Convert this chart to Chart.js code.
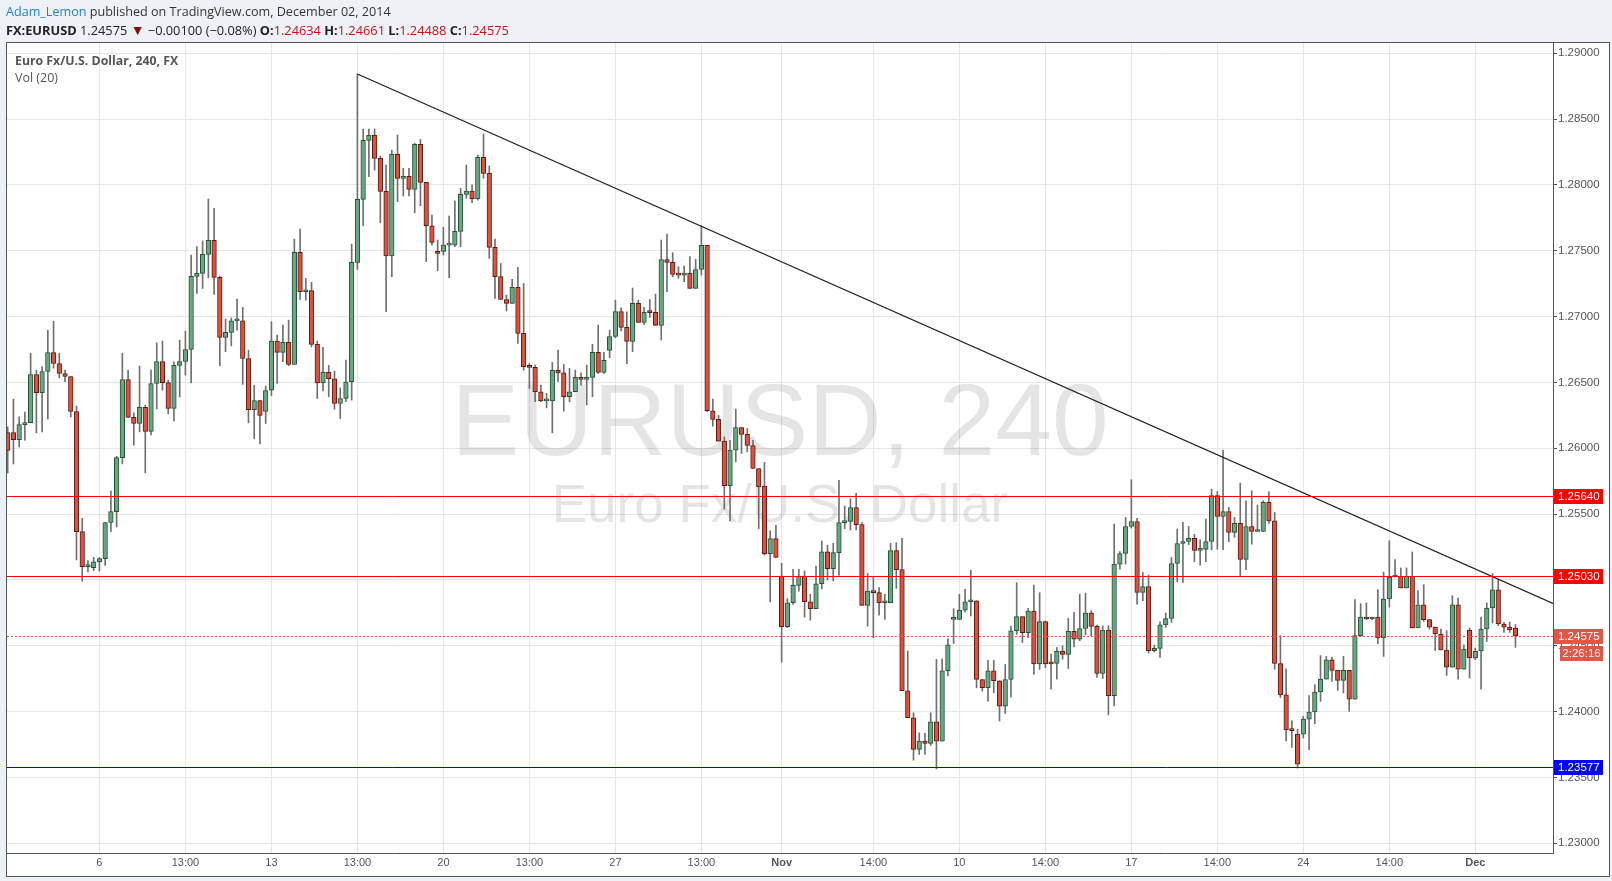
<!DOCTYPE html>
<html><head><meta charset="utf-8">
<script src="https://cdn.jsdelivr.net/npm/chart.js@4.4.0/dist/chart.umd.min.js"></script>
<style>
html,body{margin:0;padding:0;background:#eef1f5;width:1612px;height:881px;overflow:hidden;font-family:"Open Sans",sans-serif;}
#panel{position:absolute;left:6px;top:42px;width:1602px;height:833px;border:1px solid #555;background:#fff;}
#c{position:absolute;left:0;top:0;}
.txt{position:absolute;white-space:nowrap;}
#h1{left:6px;top:3px;font-size:12.6px;color:#333;line-height:18px;}
#h1 .u{color:#2185c6;}
#h2{left:6px;top:21px;font-size:12.8px;color:#222;line-height:18px;}
#h2 b{font-weight:700;}
#h2 .r{color:#c0171b;}
#h2 .t{color:#8b0d0d;font-size:14px;}
#t1{left:15px;top:52px;font-size:12.3px;font-weight:700;color:#555;line-height:17px;}
#t2{left:15px;top:69px;font-size:12.5px;color:#555;line-height:17px;}
</style></head>
<body>
<div id="panel"></div>
<canvas id="c" width="1612" height="881"></canvas>
<div class="txt" id="h1"><span class="u">Adam_Lemon</span> published on TradingView.com, December 02, 2014</div>
<div class="txt" id="h2"><b>FX:EURUSD</b> 1.24575 <span class="t">▼</span> −0.00100 (−0.08%) <b>O:</b><span class="r">1.24634</span> <b>H:</b><span class="r">1.24661</span> <b>L:</b><span class="r">1.24488</span> <b>C:</b><span class="r">1.24575</span></div>
<div class="txt" id="t1">Euro Fx/U.S. Dollar, 240, FX</div>
<div class="txt" id="t2">Vol (20)</div>
<script>
const opens = [
1.26120,1.26120,1.26066,1.26180,1.26195,1.26560,1.26423,1.26583,1.26727,1.26644,
1.26568,1.26545,1.26279,1.25367,1.25101,1.25094,1.25137,1.25162,1.25436,1.25519,
1.25929,1.26522,1.26234,1.26188,1.26310,1.26127,1.26492,1.26659,1.26499,1.26302,
1.26629,1.26659,1.26750,1.27305,1.27328,1.27472,1.27579,1.27298,1.26842,1.26880,
1.26968,1.26968,1.26682,1.26294,1.26363,1.26279,1.26441,1.26814,1.26728,1.26804,
1.26637,1.27488,1.27189,1.27197,1.26789,1.26497,1.26576,1.26528,1.26340,1.26378,
1.26505,1.27412,1.27890,1.28339,1.28377,1.28202,1.27951,1.27460,1.28232,1.28050,
1.28065,1.27966,1.28308,1.28019,1.27690,1.27495,1.27495,1.27543,1.27543,1.27647,
1.27928,1.27954,1.27895,1.28209,1.28088,1.27526,1.27303,1.27130,1.27100,1.27222,
1.26872,1.26619,1.26614,1.26429,1.26360,1.26360,1.26591,1.26573,1.26391,1.26429,
1.26538,1.26523,1.26538,1.26728,1.26576,1.26743,1.26849,1.27039,1.26918,1.26811,
1.27100,1.26956,1.27032,1.27032,1.26933,1.27434,1.27412,1.27320,1.27315,1.27330,
1.27214,1.27358,1.27541,1.26285,1.26219,1.26054,1.25715,1.25986,1.26158,1.26105,
1.26021,1.25846,1.25712,1.25200,1.25314,1.25029,1.24645,1.24827,1.24959,1.25029,
1.24834,1.24781,1.24971,1.25214,1.25085,1.25207,1.25435,1.25445,1.25549,1.25420,
1.24807,1.24916,1.24903,1.24827,1.24827,1.25222,1.25078,1.24158,1.23953,1.23712,
1.23776,1.23758,1.23923,1.23776,1.24310,1.24700,1.24700,1.24771,1.24834,1.24842,
1.24244,1.24181,1.24310,1.24234,1.24042,1.24244,1.24614,1.24721,1.24599,1.24763,
1.24363,1.24683,1.24365,1.24365,1.24457,1.24434,1.24609,1.24550,1.24631,1.24748,
1.24647,1.24289,1.24619,1.24120,1.25120,1.25201,1.25406,1.25444,1.24905,1.24950,
1.24462,1.24480,1.24659,1.24707,1.25125,1.25277,1.25292,1.25315,1.25224,1.25232,
1.25292,1.25640,1.25482,1.25520,1.25361,1.25429,1.25156,1.25406,1.25368,1.25368,
1.25589,1.25449,1.24365,1.24127,1.23861,1.23829,1.23829,1.23943,1.23997,1.24149,
1.24247,1.24394,1.24313,1.24237,1.24313,1.24095,1.24577,1.24718,1.24703,1.24718,
1.24559,1.24855,1.25022,1.25027,1.24939,1.25027,1.24635,1.24810,1.24698,1.24642,
1.24589,1.24468,1.24338,1.24810,1.24323,1.24620,1.24407,1.24460,1.24627,1.24787,
1.24924,1.24665,1.24642,1.24634];
const highs = [
1.26163,1.26373,1.26238,1.26274,1.26722,1.26593,1.26621,1.26897,1.26965,1.26722,
1.26593,1.26545,1.26320,1.25468,1.25147,1.25172,1.25170,1.25436,1.25674,1.25939,
1.26722,1.26593,1.26269,1.26624,1.26327,1.26593,1.26801,1.26813,1.26517,1.26656,
1.26821,1.26889,1.27467,1.27531,1.27574,1.27893,1.27822,1.27308,1.26981,1.26990,
1.27133,1.27070,1.26745,1.26479,1.26365,1.26472,1.26961,1.26859,1.26935,1.26973,
1.27589,1.27665,1.27290,1.27260,1.26814,1.26766,1.26629,1.26586,1.26459,1.26669,
1.27551,1.28843,1.28425,1.28425,1.28425,1.28220,1.28151,1.28265,1.28379,1.28126,
1.28126,1.28316,1.28346,1.28019,1.27771,1.27581,1.27678,1.27764,1.27880,1.27974,
1.28151,1.28000,1.28227,1.28387,1.28144,1.27589,1.27404,1.27163,1.27283,1.27374,
1.27252,1.26644,1.26631,1.26479,1.26416,1.26652,1.26745,1.26636,1.26606,1.26594,
1.26573,1.26631,1.26789,1.26935,1.26728,1.26897,1.27125,1.27067,1.27036,1.27217,
1.27125,1.27070,1.27130,1.27171,1.27581,1.27627,1.27485,1.27378,1.27384,1.27455,
1.27435,1.27690,1.27541,1.26373,1.26251,1.26087,1.26061,1.26297,1.26158,1.26150,
1.26061,1.25846,1.25892,1.25373,1.25415,1.25126,1.24858,1.25080,1.25080,1.25068,
1.24890,1.25105,1.25295,1.25263,1.25278,1.25756,1.25561,1.25617,1.25658,1.25435,
1.25050,1.25024,1.24941,1.24890,1.25278,1.25283,1.25316,1.24460,1.23991,1.23839,
1.23834,1.23991,1.24396,1.24401,1.24553,1.24781,1.24890,1.24928,1.25073,1.24842,
1.24244,1.24389,1.24389,1.24234,1.24358,1.24650,1.24979,1.24721,1.24784,1.24961,
1.24903,1.24688,1.24436,1.24487,1.24500,1.24710,1.24753,1.24892,1.24900,1.24766,
1.24657,1.24652,1.24652,1.25424,1.25216,1.25475,1.25761,1.25467,1.25057,1.25037,
1.24505,1.24682,1.24748,1.25171,1.25386,1.25437,1.25406,1.25346,1.25305,1.25462,
1.25690,1.25672,1.25986,1.25551,1.25475,1.25736,1.25601,1.25677,1.25569,1.25601,
1.25670,1.25513,1.24576,1.24322,1.23930,1.23866,1.23964,1.24121,1.24204,1.24425,
1.24419,1.24414,1.24313,1.24419,1.24313,1.24850,1.24820,1.24825,1.24718,1.24926,
1.25060,1.25298,1.25154,1.25091,1.25091,1.25212,1.24919,1.24964,1.24698,1.24642,
1.24627,1.24614,1.24880,1.24863,1.24508,1.24635,1.24483,1.24718,1.24825,1.25048,
1.25002,1.24678,1.24680,1.24661];
const lows = [
1.25813,1.25881,1.26011,1.26061,1.26195,1.26117,1.26125,1.26223,1.26608,1.26535,
1.26505,1.26238,1.25152,1.24990,1.25061,1.25071,1.25068,1.25111,1.25367,1.25402,
1.25881,1.26234,1.26023,1.26125,1.25813,1.26102,1.26299,1.26441,1.26261,1.26208,
1.26390,1.26555,1.26497,1.27176,1.27214,1.27295,1.27168,1.26626,1.26733,1.26778,
1.26897,1.26485,1.26193,1.26072,1.26033,1.26188,1.26400,1.26492,1.26657,1.26627,
1.26637,1.27130,1.27125,1.26771,1.26378,1.26436,1.26391,1.26297,1.26226,1.26353,
1.26365,1.27358,1.27690,1.28063,1.28113,1.27713,1.27037,1.27303,1.27873,1.27916,
1.27916,1.27789,1.27842,1.27417,1.27543,1.27348,1.27467,1.27295,1.27531,1.27531,
1.27898,1.27865,1.27885,1.28050,1.27442,1.27138,1.27130,1.27042,1.27100,1.26796,
1.26594,1.26454,1.26353,1.26353,1.26307,1.26117,1.26505,1.26282,1.26353,1.26429,
1.26479,1.26328,1.26391,1.26568,1.26568,1.26687,1.26839,1.26892,1.26642,1.26733,
1.26956,1.26941,1.26994,1.26933,1.26822,1.27189,1.27303,1.27290,1.27265,1.27214,
1.27214,1.27315,1.26277,1.26168,1.26054,1.25537,1.25449,1.25897,1.25961,1.25973,
1.25846,1.25390,1.25188,1.24833,1.25170,1.24376,1.24637,1.24814,1.24915,1.24718,
1.24695,1.24781,1.24933,1.24999,1.24992,1.25035,1.25389,1.25379,1.25379,1.24807,
1.24650,1.24561,1.24733,1.24700,1.24827,1.24936,1.24158,1.23953,1.23631,1.23674,
1.23674,1.23743,1.23565,1.23776,1.24270,1.24518,1.24700,1.24756,1.24726,1.24181,
1.24156,1.24080,1.24143,1.23928,1.23986,1.24110,1.24586,1.24523,1.24561,1.24282,
1.24320,1.24333,1.24170,1.24246,1.24398,1.24327,1.24492,1.24538,1.24583,1.24576,
1.24259,1.24251,1.23975,1.24044,1.25082,1.25120,1.25394,1.24816,1.24842,1.24444,
1.24454,1.24411,1.24639,1.24677,1.24986,1.24981,1.25267,1.25138,1.25113,1.25138,
1.25229,1.25234,1.25229,1.25290,1.25323,1.25032,1.25077,1.25272,1.25368,1.25368,
1.25429,1.24322,1.24107,1.23778,1.23727,1.23571,1.23799,1.23710,1.23908,1.24078,
1.24247,1.24230,1.24161,1.24141,1.24002,1.24095,1.24577,1.24698,1.24698,1.24516,
1.24419,1.24794,1.25022,1.24939,1.24939,1.24635,1.24635,1.24685,1.24627,1.24465,
1.24468,1.24275,1.24338,1.24247,1.24323,1.24255,1.24394,1.24171,1.24533,1.24673,
1.24653,1.24602,1.24602,1.24488];
const closes = [
1.25983,1.26066,1.26180,1.26195,1.26560,1.26423,1.26583,1.26727,1.26644,1.26568,
1.26545,1.26279,1.25367,1.25101,1.25106,1.25137,1.25162,1.25436,1.25519,1.25929,
1.26522,1.26234,1.26188,1.26310,1.26127,1.26492,1.26659,1.26499,1.26302,1.26629,
1.26659,1.26750,1.27305,1.27328,1.27472,1.27579,1.27298,1.26842,1.26880,1.26968,
1.26972,1.26682,1.26294,1.26363,1.26249,1.26439,1.26814,1.26728,1.26804,1.26637,
1.27488,1.27189,1.27197,1.26789,1.26497,1.26576,1.26528,1.26340,1.26378,1.26505,
1.27412,1.27890,1.28339,1.28377,1.28202,1.27951,1.27460,1.28232,1.28050,1.28065,
1.27966,1.28308,1.28019,1.27690,1.27564,1.27480,1.27543,1.27546,1.27647,1.27928,
1.27954,1.27895,1.28209,1.28088,1.27526,1.27303,1.27130,1.27100,1.27222,1.26872,
1.26619,1.26614,1.26429,1.26360,1.26362,1.26591,1.26573,1.26391,1.26429,1.26538,
1.26523,1.26538,1.26728,1.26576,1.26667,1.26849,1.27039,1.26918,1.26811,1.27100,
1.26956,1.27032,1.27030,1.26933,1.27434,1.27412,1.27320,1.27315,1.27330,1.27214,
1.27358,1.27541,1.26285,1.26219,1.26054,1.25715,1.25986,1.26158,1.26105,1.26021,
1.25846,1.25707,1.25200,1.25314,1.25170,1.24645,1.24827,1.24959,1.25029,1.24834,
1.24781,1.24971,1.25214,1.25085,1.25207,1.25435,1.25445,1.25549,1.25420,1.24807,
1.24916,1.24903,1.24827,1.24830,1.25222,1.25078,1.24158,1.23953,1.23712,1.23776,
1.23758,1.23923,1.23776,1.24310,1.24508,1.24708,1.24771,1.24834,1.24842,1.24244,
1.24181,1.24310,1.24234,1.24042,1.24244,1.24614,1.24721,1.24599,1.24763,1.24363,
1.24683,1.24363,1.24362,1.24457,1.24434,1.24609,1.24550,1.24631,1.24748,1.24647,
1.24289,1.24619,1.24120,1.25120,1.25201,1.25406,1.25444,1.24905,1.24950,1.24462,
1.24480,1.24659,1.24707,1.25125,1.25277,1.25292,1.25315,1.25224,1.25232,1.25292,
1.25640,1.25482,1.25520,1.25361,1.25429,1.25156,1.25406,1.25368,1.25370,1.25589,
1.25449,1.24365,1.24127,1.23861,1.23855,1.23601,1.23943,1.23997,1.24149,1.24247,
1.24394,1.24313,1.24237,1.24313,1.24095,1.24577,1.24718,1.24703,1.24718,1.24559,
1.24855,1.25022,1.25027,1.24939,1.25027,1.24635,1.24810,1.24698,1.24642,1.24589,
1.24468,1.24338,1.24810,1.24323,1.24475,1.24407,1.24460,1.24627,1.24787,1.24924,
1.24665,1.24642,1.24620,1.24575];

const xTickIdx = [16,31,46,61,76,91,106,121,135,151,166,181,196,211,226,241,256];
const xTickLabels = ["6","13:00","13","13:00","20","13:00","27","13:00","Nov","14:00","10","14:00","17","14:00","24","14:00","Dec"];
const yTicks = [1.23,1.235,1.24,1.245,1.25,1.255,1.26,1.265,1.27,1.275,1.28,1.285,1.29];
const levelPrices = [1.25640, 1.25030, 1.23577];
const lastPrice = 1.24575;
const countdownText = "2:26:16";
const trendIdx = [61, 269.55];
const trendPrice = [1.28843, 1.24821];

const UP_FILL='#6ba583', UP_LINE='#225437', DN_FILL='#d75442', DN_LINE='#5b1a13';
const levelColors = ['#ff0000','#ff0000','#0000ff'];
const AXFONT = '"Liberation Sans", Arial, sans-serif';

const idx = opens.map((_, i) => i);
const isUp = idx.map(i => closes[i] >= opens[i]);
const wickData = idx.map(i => ({x:i, y:[Math.min(lows[i],opens[i],closes[i]), Math.max(highs[i],opens[i],closes[i])]}));
const bodyData = idx.map(i => ({x:i, y:[Math.min(opens[i],closes[i]), Math.max(opens[i],closes[i])]}));

const watermark = {
  id:'watermark',
  beforeDatasetsDraw(chart){
    const {ctx, chartArea:a} = chart;
    const cx = (a.left + a.right)/2;
    ctx.save();
    ctx.fillStyle = 'rgba(0,0,0,0.1)';
    ctx.textAlign = 'center';
    ctx.textBaseline = 'alphabetic';
    ctx.font = '102px ' + AXFONT;
    ctx.fillText('EURUSD, 240', cx, 455);
    ctx.font = '53px ' + AXFONT;
    ctx.fillText('Euro Fx/U.S. Dollar', cx, 522);
    ctx.restore();
  }
};

const levels = {
  id:'levels',
  afterDatasetsDraw(chart){
    const {ctx, chartArea:a, scales:{y}} = chart;
    ctx.save();
    ctx.lineWidth = 1;
    levelPrices.forEach((p,k) => {
      const py = Math.round(y.getPixelForValue(p)) + 0.5;
      ctx.strokeStyle = levelColors[k];
      ctx.beginPath(); ctx.moveTo(a.left, py); ctx.lineTo(a.right, py); ctx.stroke();
    });
    const ly = Math.round(y.getPixelForValue(lastPrice)) + 0.5;
    ctx.strokeStyle = '#e0523f';
    ctx.setLineDash([2,2]);
    ctx.beginPath(); ctx.moveTo(a.left, ly); ctx.lineTo(a.right, ly); ctx.stroke();
    ctx.restore();
  },
  afterDraw(chart){
    const {ctx, chartArea:a, scales:{y}} = chart;
    ctx.save();
    ctx.font = '11.5px ' + AXFONT;
    ctx.textBaseline = 'middle';
    const box = (p, color) => {
      const py = y.getPixelForValue(p);
      ctx.fillStyle = color;
      ctx.fillRect(a.right + 1, Math.round(py) - 7, 49, 15);
      ctx.fillStyle = '#fff';
      ctx.textAlign = 'left';
      ctx.fillText(p.toFixed(5), a.right + 5, Math.round(py) + 0.5);
    };
    levelPrices.forEach((p,k) => box(p, levelColors[k]));
    box(lastPrice, '#dd5846');
    const py = Math.round(y.getPixelForValue(lastPrice));
    ctx.fillStyle = '#dd5846';
    ctx.fillRect(a.right + 7, py + 10, 43, 15);
    ctx.fillStyle = '#fff';
    ctx.textAlign = 'center';
    ctx.fillText(countdownText, a.right + 28.5, py + 18);
    ctx.restore();
  }
};

new Chart(document.getElementById('c'), {
  type:'bar',
  data:{datasets:[
    {type:'line', data: trendIdx.map((x,k) => ({x, y:trendPrice[k]})), borderColor:'#1e1e1e', borderWidth:1.2, pointRadius:0, order:0},
    {data: bodyData, backgroundColor: isUp.map(u => u ? UP_FILL : DN_FILL), borderColor: isUp.map(u => u ? UP_LINE : DN_LINE),
      borderWidth:1, borderSkipped:false, barThickness:4.6, minBarLength:2, grouped:false, order:1},
    {data: wickData, backgroundColor:'#707070', borderWidth:0, barThickness:1, grouped:false, order:2}
  ]},
  options:{
    responsive:false, animation:false, devicePixelRatio:1,
    layout:{padding:{left:7, top:43, right:0, bottom:0}},
    plugins:{legend:{display:false}, tooltip:{enabled:false}},
    scales:{
      x:{type:'linear', min:-0.122, max:269.55, offset:false,
        grid:{color:'#e6e6e6', offset:false, drawTicks:false},
        border:{color:'#555', width:1},
        afterBuildTicks: s => { s.ticks = xTickIdx.map(v => ({value:v})); },
        afterFit: s => { s.height = 28; },
        ticks:{autoSkip:false, maxRotation:0, minRotation:0, padding:3, color:'#555',
          font: c => ({family:AXFONT, size:11, weight: /^[A-Z]/.test(xTickLabels[c.index] || '') ? 'bold' : 'normal'}),
          callback: (v, i) => xTickLabels[i]}
      },
      y:{position:'right', min:1.22926, max:1.29078,
        grid:{color:'#e6e6e6', tickLength:4, tickColor:'#555'},
        border:{color:'#555', width:1},
        afterBuildTicks: s => { s.ticks = yTicks.map(v => ({value:v})); },
        afterFit: s => { s.width = 59; },
        ticks:{padding:1, color:'#555', font:{family:AXFONT, size:11.5}, callback: v => Number(v).toFixed(5)}
      }
    }
  },
  plugins:[watermark, levels]
});
</script>
</body></html>
